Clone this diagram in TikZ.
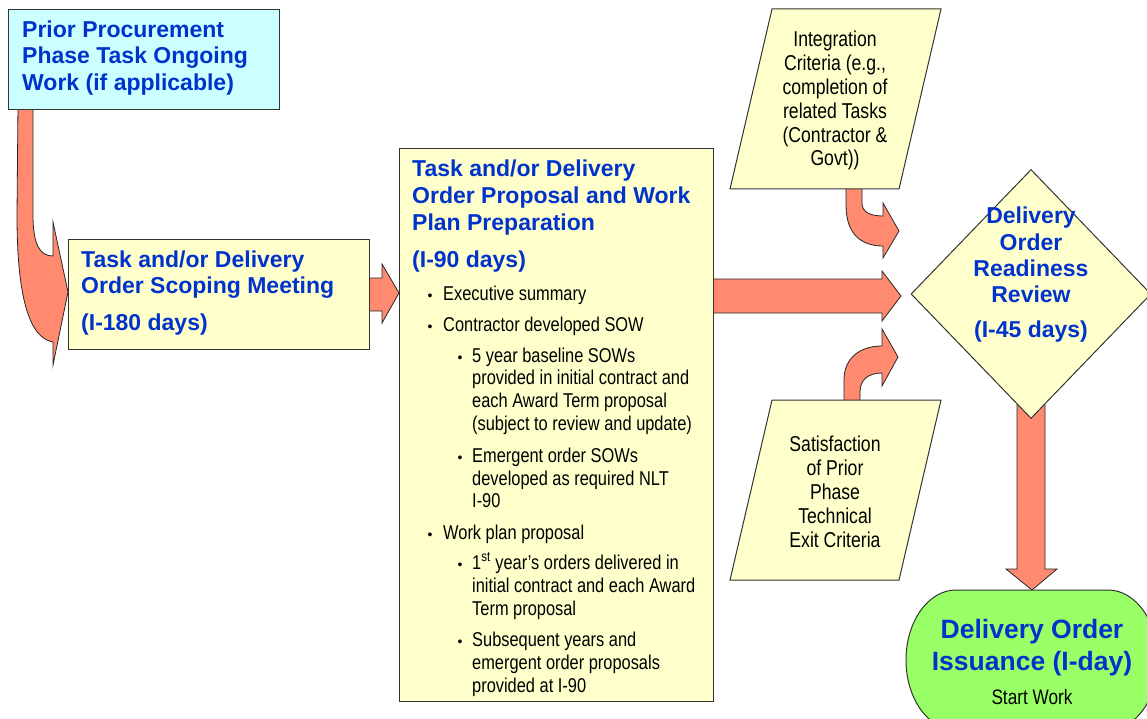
\documentclass[tikz,border=0pt]{standalone}
\usepackage{fontspec}
\setmainfont{Liberation Sans}
\newfontfamily\narrowfont[FakeStretch=0.82]{Liberation Sans}
\usetikzlibrary{shapes.geometric}
\definecolor{tblue}{RGB}{0,51,204}
\definecolor{arrowfill}{RGB}{255,138,112}
\definecolor{ylw}{RGB}{255,255,204}
\definecolor{cyn}{RGB}{204,255,255}
\definecolor{grn}{RGB}{153,255,102}
\begin{document}
\begin{tikzpicture}[x=1pt,y=-1pt,
  blockarrow/.style={fill=arrowfill, draw=black!85, line width=0.8pt, line join=miter},
  boxshape/.style={draw=black!80, line width=1pt, inner sep=0pt},
  title/.style={font=\fontsize{23}{26}\selectfont\bfseries, text=tblue, inner sep=0pt, anchor=base west},
  ctitle/.style={font=\fontsize{23}{26}\selectfont\bfseries, text=tblue, inner sep=0pt, anchor=base},
  gtitle/.style={font=\fontsize{26.5}{30}\selectfont\bfseries, text=tblue, inner sep=0pt, anchor=base},
  body/.style={font=\narrowfont\fontsize{20}{23}\selectfont, inner sep=0pt, anchor=base west},
  cbody/.style={font=\narrowfont\fontsize{21.5}{24}\selectfont, inner sep=0pt, anchor=base},
  bul/.style={font=\fontsize{14}{16}\selectfont, inner sep=0pt, anchor=base}
]
\useasboundingbox (0,0) rectangle (1147,719);
\clip (0,0) rectangle (1147,719);

% ---------- block arrows ----------
% prior -> scoping (curved)
\draw[blockarrow] (18,105) -- (33,105) -- (33,215)
  .. controls (33,245) and (40,256) .. (53,256)
  -- (53,222) -- (68,292) -- (53,365) -- (53,342)
  .. controls (30,338) and (17,300) .. (17,215) -- cycle;
% scoping -> proposal
\draw[blockarrow] (365,278) -- (382,278) -- (382,264) -- (399,293)
  -- (382,323) -- (382,311) -- (365,311) -- cycle;
% proposal -> review
\draw[blockarrow] (709,279) -- (882,279) -- (882,271) -- (901,296)
  -- (882,321) -- (882,313) -- (709,313) -- cycle;
% integration -> review (curved)
\draw[blockarrow] (846,185) -- (862,185) -- (862,203)
  .. controls (862,212) and (870,216) .. (883,216)
  -- (883,203) -- (899,231) -- (883,258) -- (883,246)
  .. controls (862,246) and (846,235) .. (846,205) -- cycle;
% satisfaction -> review (curved)
\draw[blockarrow] (844,404) -- (844,380)
  .. controls (844,358) and (860,346) .. (882,346)
  -- (882,329) -- (898,357) -- (882,386) -- (882,373)
  .. controls (868,373) and (860,380) .. (860,392) -- (860,404) -- cycle;
% review -> issuance
\draw[blockarrow] (1017,390) -- (1017,569) -- (1006,569) -- (1032,590)
  -- (1057,569) -- (1045,569) -- (1045,390) -- cycle;

% ---------- prior procurement ----------
\node[boxshape, fill=cyn, minimum width=271pt, minimum height=100pt, anchor=north west] (prior) at (8,9) {};
\node[title] (prior1) at (22,38) {Prior Procurement};
\node[title] (prior2) at (22,64) {Phase Task Ongoing};
\node[title] (prior3) at (22,90.5) {Work (if applicable)};

% ---------- scoping ----------
\node[boxshape, fill=ylw, minimum width=301pt, minimum height=110pt, anchor=north west] (scope) at (68,239) {};
\node[title] (scope1) at (81,267) {Task and/or Delivery};
\node[title] (scope2) at (81,293) {Order Scoping Meeting};
\node[title] (scope3) at (81,330) {(I-180 days)};

% ---------- proposal ----------
\node[boxshape, fill=ylw, minimum width=314pt, minimum height=553pt, anchor=north west] (prop) at (399,148) {};
\node[title] (prop1) at (412,177) {Task and/or Delivery};
\node[title] (prop2) at (412,204) {Order Proposal and Work};
\node[title] (prop3) at (412,230) {Plan Preparation};
\node[title] (prop4) at (412,267) {(I-90 days)};
% level 1
\foreach \n/\t/\y in {a/{Executive summary}/300, b/{Contractor developed SOW}/331, c/{Work plan proposal}/539}{
  \node[bul] (bl\n) at (430,\y) {•};
  \node[body] (l\n) at (443,\y) {\t};
}
% level 2
\foreach \n/\y in {a/362, b/462, c/569, d/646}{
  \node[bul] (bm\n) at (460,\y) {•};
}
\foreach \n/\t/\y in {
  a1/{5 year baseline SOWs}/362,
  a2/{provided in initial contract and}/384.5,
  a3/{each Award Term proposal}/407,
  a4/{(subject to review and update)}/430,
  b1/{Emergent order SOWs}/462,
  b2/{developed as required NLT}/485,
  b3/{I-90}/507.5,
  c1/{1\textsuperscript{st} year’s orders delivered in}/569,
  c2/{initial contract and each Award}/592,
  c3/{Term proposal}/615,
  d1/{Subsequent years and}/646,
  d2/{emergent order proposals}/669,
  d3/{provided at I-90}/692}{
  \node[body] (m\n) at (472,\y) {\t};
}

% ---------- integration criteria ----------
\path[boxshape, fill=ylw] (772,9) -- (941,9) -- (899,189) -- (730,189) -- cycle;
\foreach \n/\t/\y in {1/{Integration}/47, 2/{Criteria (e.g.,}/70.5, 3/{completion of}/94.5,
  4/{related Tasks}/118.5, 5/{(Contractor \&}/142.5, 6/{Govt))}/166}{
  \node[cbody] (int\n) at (835,\y) {\t};
}

% ---------- satisfaction ----------
\path[boxshape, fill=ylw] (772,400) -- (941,400) -- (899,580) -- (730,580) -- cycle;
\foreach \n/\t/\y in {1/{Satisfaction}/451, 2/{of Prior}/475, 3/{Phase}/499,
  4/{Technical}/523, 5/{Exit Criteria}/547}{
  \node[cbody] (sat\n) at (835,\y) {\t};
}

% ---------- readiness review ----------
\node[boxshape, diamond, fill=ylw, minimum width=240pt, minimum height=249pt] (rev) at (1031,294) {};
\foreach \n/\t/\y in {1/{Delivery}/223, 2/{Order}/250, 3/{Readiness}/276, 4/{Review}/302, 5/{(I-45 days)}/337}{
  \node[ctitle] (rev\n) at (1031,\y) {\t};
}

% ---------- issuance ----------
\path[boxshape, fill=grn] (956,590) -- (1108,590)
  .. controls (1135.6,590) and (1158,621.3) .. (1158,660)
  .. controls (1158,698.7) and (1135.6,730) .. (1108,730)
  -- (956,730)
  .. controls (928.4,730) and (906,698.7) .. (906,660)
  .. controls (906,621.3) and (928.4,590) .. (956,590) -- cycle;
\node[gtitle] (iss1) at (1032,638) {Delivery Order};
\node[gtitle] (iss2) at (1032,670) {Issuance (I-day)};
\node[font=\narrowfont\fontsize{21}{24}\selectfont, inner sep=0pt, anchor=base] (iss3) at (1032,704) {Start Work};
\end{tikzpicture}
\end{document}
